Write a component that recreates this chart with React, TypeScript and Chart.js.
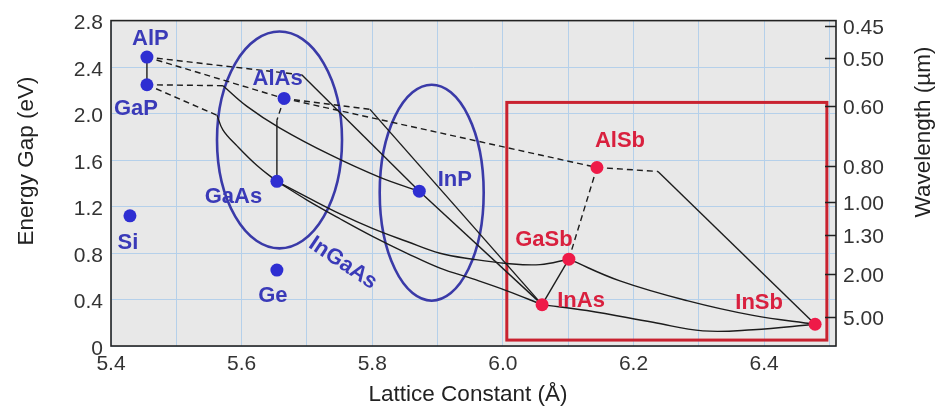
import React, { useEffect, useRef } from 'react';
import { Chart, registerables } from 'chart.js';

Chart.register(...registerables);

// ---------- axes ----------
const X_MIN = 5.4;
const X_MAX = 6.51;
const Y_MIN = 0;
const Y_MAX = 2.8;
const WAVELENGTHS = [0.45, 0.5, 0.6, 0.8, 1.0, 1.3, 2.0, 5.0];

// ---------- binary compounds ----------
const COMPOUNDS = ['AlP', 'GaP', 'AlAs', 'GaAs', 'Si', 'Ge', 'InP', 'AlSb', 'GaSb', 'InAs', 'InSb'];
const LATTICE = [5.455, 5.455, 5.665, 5.654, 5.429, 5.654, 5.872, 6.144, 6.101, 6.06, 6.478];
const GAP = [2.486, 2.248, 2.13, 1.417, 1.12, 0.653, 1.332, 1.536, 0.747, 0.356, 0.187];
const GROUP = ['b', 'b', 'b', 'b', 'b', 'b', 'b', 'r', 'r', 'r', 'r'];

// ---------- alloy curves (lattice, gap) ----------
const AlP_GaP = [[5.455, 2.486], [5.455, 2.248]];
const AlP_AlAs = [[5.455, 2.486], [5.665, 2.13]];
const AlP_InP_ind = [[5.455, 2.486], [5.692, 2.333]];
const AlP_InP_dir = [[5.692, 2.333], [5.872, 1.332]];
const GaP_InP_ind = [[5.455, 2.248], [5.5715, 2.24]];
const GaP_InP_dir = [[5.5715, 2.24], [5.6082, 2.062], [5.6587, 1.875], [5.7353, 1.646], [5.8118, 1.451], [5.872, 1.332]];
const GaP_GaAs_ind = [[5.455, 2.248], [5.5623, 1.985]];
const GaP_GaAs_dir = [[5.5623, 1.985], [5.5715, 1.858], [5.5929, 1.722], [5.6235, 1.553], [5.654, 1.417]];
const AlAs_GaAs_ind = [[5.665, 2.13], [5.654, 1.943]];
const AlAs_GaAs_dir = [[5.654, 1.943], [5.654, 1.417]];
const AlAs_InAs_ind = [[5.665, 2.13], [5.7965, 2.036]];
const AlAs_InAs_dir = [[5.7965, 2.036], [6.06, 0.356]];
const AlAs_AlSb = [[5.665, 2.13], [6.144, 1.536]];
const InP_InAs = [[5.872, 1.332], [6.06, 0.356]];
const GaAs_GaSb = [[5.654, 1.417], [5.7001, 1.281], [5.7506, 1.137], [5.8011, 1.01], [5.8532, 0.899], [5.9037, 0.798], [5.9542, 0.747], [6.0062, 0.71], [6.0568, 0.7], [6.101, 0.747]];
const GaAs_InAs = [[5.654, 1.417], [5.7001, 1.256], [5.7506, 1.095], [5.8011, 0.942], [5.8532, 0.798], [5.9037, 0.67], [5.9542, 0.577], [6.0062, 0.475], [6.06, 0.356]];
const InAs_GaSb = [[6.06, 0.356], [6.101, 0.747]];
const GaSb_AlSb = [[6.101, 0.747], [6.144, 1.536]];
const GaSb_InSb = [[6.101, 0.747], [6.1792, 0.56], [6.2818, 0.39], [6.3829, 0.263], [6.478, 0.187]];
const InAs_InSb = [[6.06, 0.356], [6.1287, 0.305], [6.2298, 0.204], [6.3063, 0.13], [6.3829, 0.14], [6.478, 0.187]];
const AlSb_InSb_ind = [[6.144, 1.536], [6.2374, 1.502]];
const AlSb_InSb_dir = [[6.2374, 1.502], [6.478, 0.187]];

const SOLID_LINES = [AlP_GaP, AlP_InP_dir, AlAs_GaAs_dir, AlAs_InAs_dir, InP_InAs, InAs_GaSb, AlSb_InSb_dir];
const SOLID_CURVES = [GaP_InP_dir, GaP_GaAs_dir, GaAs_GaSb, GaAs_InAs, GaSb_InSb, InAs_InSb];
const DASHED_LINES = [AlP_AlAs, AlP_InP_ind, GaP_InP_ind, GaP_GaAs_ind, AlAs_GaAs_ind, AlAs_InAs_ind, AlAs_AlSb, GaSb_AlSb, AlSb_InSb_ind];

// ---------- annotations (data units) ----------
const ELLIPSE_GAAS = { cx: 5.658, cy: 1.773, rx: 0.0957, ry: 0.933 };
const ELLIPSE_INP = { cx: 5.891, cy: 1.319, rx: 0.0796, ry: 0.929 };
const RED_BOX = { x0: 6.006, x1: 6.496, y0: 0.051, y1: 2.096 };
const INGAAS_AT = { x: 5.755, y: 0.713 };

// ---------- styles ----------
const FONT = "'Liberation Sans', Arial, Helvetica, sans-serif";
const BLUE_PT = '#2e2ed2';
const BLUE_TXT = '#3a3ab8';
const RED_PT = '#ee1a48';
const RED_TXT = '#d9203e';
const ELLIPSE_COLOR = '#3a3aa8';
const BOX_COLOR = '#c92230';
const GRID = '#b5d0ea';
const PLOT_BG = '#e8e8e8';
const LINE_COLOR = '#1c1c1c';
const LABEL_OFFSETS: Record<string, [number, number]> = {
  AlP: [3.5, -20.5],
  GaP: [-11, 22.5],
  AlAs: [-6.5, -21.5],
  GaAs: [-43.5, 14],
  Si: [-2, 25.5],
  Ge: [-4, 23.5],
  InP: [35.5, -13],
  AlSb: [23, -28.5],
  GaSb: [-25, -21.5],
  InAs: [39, -5.5],
  InSb: [-56, -23],
};

const overlayPlugin = {
  id: 'overlay',
  beforeDraw(chart: any) {
    const { ctx, chartArea: a } = chart;
    ctx.save();
    ctx.fillStyle = PLOT_BG;
    ctx.fillRect(a.left, a.top, a.right - a.left, a.bottom - a.top);
    ctx.restore();
  },
  beforeDatasetsDraw(chart: any) {
    const { ctx } = chart;
    const xs = chart.scales.x;
    const ys = chart.scales.y;
    ctx.save();
    for (const e of [ELLIPSE_GAAS, ELLIPSE_INP]) {
      const cx = xs.getPixelForValue(e.cx);
      const cy = ys.getPixelForValue(e.cy);
      const rx = Math.abs(xs.getPixelForValue(e.cx + e.rx) - cx);
      const ry = Math.abs(ys.getPixelForValue(e.cy + e.ry) - cy);
      ctx.beginPath();
      ctx.ellipse(cx, cy, rx, ry, 0, 0, Math.PI * 2);
      ctx.strokeStyle = ELLIPSE_COLOR;
      ctx.lineWidth = 2.6;
      ctx.stroke();
    }
    const bx0 = xs.getPixelForValue(RED_BOX.x0);
    const bx1 = xs.getPixelForValue(RED_BOX.x1);
    const by0 = ys.getPixelForValue(RED_BOX.y1);
    const by1 = ys.getPixelForValue(RED_BOX.y0);
    ctx.strokeStyle = BOX_COLOR;
    ctx.lineWidth = 3;
    ctx.strokeRect(bx0, by0, bx1 - bx0, by1 - by0);
    ctx.restore();
  },
  afterDatasetsDraw(chart: any) {
    const { ctx } = chart;
    const xs = chart.scales.x;
    const ys = chart.scales.y;
    ctx.save();
    ctx.font = `bold 22px ${FONT}`;
    ctx.textAlign = 'center';
    ctx.textBaseline = 'alphabetic';
    COMPOUNDS.forEach((name, i) => {
      const px = xs.getPixelForValue(LATTICE[i]);
      const py = ys.getPixelForValue(GAP[i]);
      const [dx, dy] = LABEL_OFFSETS[name];
      ctx.fillStyle = GROUP[i] === 'b' ? BLUE_TXT : RED_TXT;
      ctx.fillText(name, px + dx, py + dy + 8);
    });
    const gx = xs.getPixelForValue(INGAAS_AT.x);
    const gy = ys.getPixelForValue(INGAAS_AT.y);
    ctx.translate(gx, gy);
    ctx.rotate((33.7 * Math.PI) / 180);
    ctx.fillStyle = BLUE_TXT;
    ctx.textBaseline = 'middle';
    ctx.fillText('InGaAs', 0, 0);
    ctx.restore();
  },
  afterDraw(chart: any) {
    const { ctx, chartArea: a } = chart;
    const y2 = chart.scales.y2;
    ctx.save();
    ctx.strokeStyle = '#222';
    ctx.lineWidth = 1.6;
    ctx.strokeRect(a.left, a.top, a.right - a.left, a.bottom - a.top);
    ctx.beginPath();
    for (const w of WAVELENGTHS) {
      const py = Math.round(y2.getPixelForValue(1.24 / w)) + 0.5;
      ctx.moveTo(a.right - 11, py);
      ctx.lineTo(a.right, py);
    }
    ctx.lineWidth = 1.5;
    ctx.stroke();
    ctx.fillStyle = '#222';
    ctx.font = `22.5px ${FONT}`;
    ctx.textAlign = 'center';
    ctx.textBaseline = 'alphabetic';
    ctx.fillText('Lattice Constant (\u00C5)', 468, 401);
    ctx.save();
    ctx.translate(33, 161);
    ctx.rotate(-Math.PI / 2);
    ctx.fillText('Energy Gap (eV)', 0, 0);
    ctx.restore();
    ctx.save();
    ctx.translate(930, 132);
    ctx.rotate(-Math.PI / 2);
    ctx.fillText('Wavelength (\u00B5m)', 0, 0);
    ctx.restore();
    ctx.restore();
  },
};

function lineDataset(pts: number[][], dashed: boolean, smooth: boolean) {
  return {
    data: pts.map(([x, y]) => ({ x, y })),
    showLine: true,
    borderColor: LINE_COLOR,
    borderWidth: 1.4,
    borderDash: dashed ? [6, 4] : [],
    pointRadius: 0,
    pointHoverRadius: 0,
    fill: false,
    tension: smooth ? 0.4 : 0,
    order: 2,
  };
}

export default function App() {
  const canvasRef = useRef<HTMLCanvasElement | null>(null);

  useEffect(() => {
    if (!canvasRef.current) return;
    const tickFont = { size: 21, family: FONT };
    const datasets: any[] = [
      {
        data: COMPOUNDS.map((_, i) => ({ x: LATTICE[i], y: GAP[i] })),
        pointRadius: 6.5,
        pointHoverRadius: 6.5,
        pointBorderWidth: 0,
        pointBackgroundColor: GROUP.map((g) => (g === 'b' ? BLUE_PT : RED_PT)),
        showLine: false,
        order: 0,
      },
      ...SOLID_LINES.map((p) => lineDataset(p, false, false)),
      ...SOLID_CURVES.map((p) => lineDataset(p, false, true)),
      ...DASHED_LINES.map((p) => lineDataset(p, true, false)),
    ];
    const chart = new Chart(canvasRef.current, {
      type: 'scatter',
      data: { datasets },
      plugins: [overlayPlugin],
      options: {
        animation: false,
        responsive: false,
        devicePixelRatio: 1,
        layout: { padding: { top: 16, left: 0, right: 0, bottom: 0 } },
        plugins: { legend: { display: false }, tooltip: { enabled: false }, title: { display: false } },
        scales: {
          x: {
            type: 'linear',
            min: X_MIN,
            max: X_MAX,
            afterFit: (s: any) => {
              s.height = 63;
            },
            grid: { color: GRID, lineWidth: 1, drawTicks: false },
            border: { display: false },
            ticks: {
              stepSize: 0.1,
              includeBounds: false,
              autoSkip: false,
              maxRotation: 0,
              padding: 6,
              color: '#333',
              font: tickFont,
              callback: (v: any) => (Math.round(Number(v) * 10) % 2 === 0 ? Number(v).toFixed(1) : ''),
            },
          },
          y: {
            type: 'linear',
            position: 'left',
            min: Y_MIN,
            max: Y_MAX,
            afterFit: (s: any) => {
              s.width = 111;
            },
            grid: { color: GRID, lineWidth: 1, drawTicks: false },
            border: { display: false },
            ticks: {
              stepSize: 0.4,
              autoSkip: false,
              padding: 8,
              labelOffset: 3,
              color: '#333',
              font: tickFont,
              callback: (v: any) => (Number(v) === 0 ? '0' : Number(v).toFixed(1)),
            },
          },
          y2: {
            type: 'linear',
            position: 'right',
            min: Y_MIN,
            max: Y_MAX,
            afterFit: (s: any) => {
              s.width = 105;
            },
            afterBuildTicks: (s: any) => {
              s.ticks = WAVELENGTHS.map((w) => ({ value: 1.24 / w }));
            },
            grid: { display: false, drawTicks: false },
            border: { display: false },
            ticks: {
              autoSkip: false,
              padding: 7,
              labelOffset: 2,
              color: '#333',
              font: tickFont,
              callback: (_v: any, i: number) => WAVELENGTHS[i].toFixed(2),
            },
          },
        },
      } as any,
    });
    return () => chart.destroy();
  }, []);

  return (
    <div style={{ position: 'fixed', left: 0, top: 0, width: 941, height: 409, background: '#fff' }}>
      <canvas ref={canvasRef} width={941} height={409} style={{ width: 941, height: 409, display: 'block' }} />
    </div>
  );
}
